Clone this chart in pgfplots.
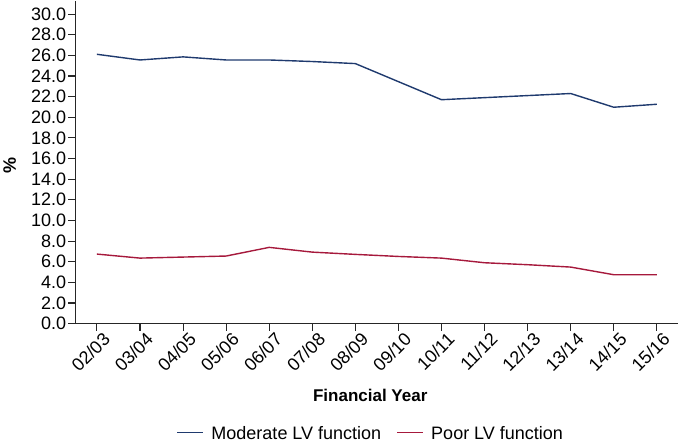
\documentclass[border=0pt]{standalone}
\usepackage{pgfplots}
\pgfplotsset{compat=1.18}
\usepackage{fontspec}
\setmainfont{Liberation Sans}

\definecolor{modblue}{HTML}{1F3A6E}
\definecolor{poorred}{HTML}{A6193C}

% legend sample lines are set in the entry text itself
\newcommand{\legline}[1]{\textcolor{#1}{\rule[0.33em]{26pt}{1.4pt}}\hspace{8pt}}

\begin{document}
\begin{tikzpicture}
\begin{axis}[
	scale only axis,
	width=603pt, height=323pt,
	font=\fontsize{18}{21}\selectfont,
	axis lines*=left,
	axis line style={line width=1.3pt, black!85},
	xmin=-0.5, xmax=13.5,
	ymin=0, ymax=31.3,
	ytick distance=2,
	xtick={0,...,13},
	xticklabels={02/03,03/04,04/05,05/06,06/07,07/08,08/09,09/10,10/11,11/12,12/13,13/14,14/15,15/16},
	x tick label style={rotate=45, anchor=north east, inner sep=1pt, xshift=4pt, yshift=-3pt},
	y tick label style={inner sep=2pt},
	tick align=outside,
	major tick length=7pt,
	tick style={line width=1.1pt, black!85},
	yticklabel style={/pgf/number format/.cd, fixed, fixed zerofill, precision=1, assume math mode=true},
	xlabel={\fontsize{17}{20}\selectfont\textbf{Financial Year}},
	xlabel style={at={(axis description cs:0.489,-0.222)}, anchor=center},
	ylabel={\textbf{\%}},
	ylabel style={at={(axis description cs:-0.109,0.49)}, anchor=center},
	legend columns=2,
	legend image code/.code={},
	legend style={at={(0.489,-0.305)}, anchor=north, draw=none, font=\fontsize{18}{21}\selectfont,
		/tikz/every even column/.append style={column sep=12pt}},
	clip=false,
]
\addplot[color=modblue, line width=1.4pt] coordinates {
	(0,26.1) (1,25.55) (2,25.85) (3,25.55) (4,25.55) (5,25.4) (6,25.2)
	(7,23.45) (8,21.7) (9,21.9) (10,22.1) (11,22.3) (12,20.97) (13,21.26)
};
\addlegendentry{\legline{modblue}Moderate LV function}
\addplot[color=poorred, line width=1.4pt] coordinates {
	(0,6.74) (1,6.35) (2,6.45) (3,6.55) (4,7.39) (5,6.93) (6,6.71)
	(7,6.51) (8,6.35) (9,5.9) (10,5.71) (11,5.48) (12,4.74) (13,4.74)
};
\addlegendentry{\legline{poorred}Poor LV function}
\end{axis}
\end{tikzpicture}
\end{document}
